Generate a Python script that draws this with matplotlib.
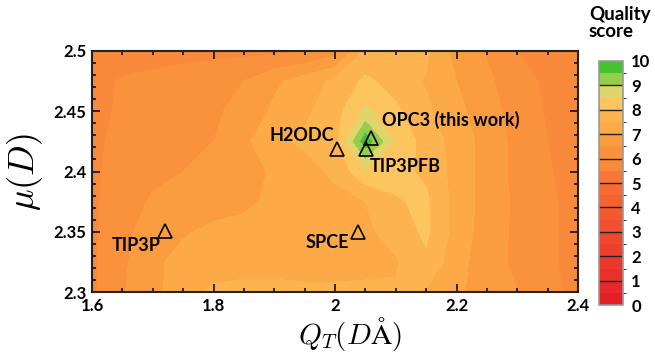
import numpy as np
import matplotlib
matplotlib.use("Agg")
import matplotlib.pyplot as plt
from matplotlib.colors import ListedColormap, BoundaryNorm

plt.rcParams['font.family'] = ['Lato', 'DejaVu Sans']
plt.rcParams['mathtext.fontset'] = 'cm'

# grid of the quality score map
q_vals = [1.6, 1.65, 1.7, 1.75, 1.8, 1.85, 1.9, 1.95, 2.0, 2.05, 2.1, 2.15, 2.2, 2.25, 2.3, 2.35, 2.4]
mu_vals = [2.3, 2.325, 2.35, 2.375, 2.4, 2.425, 2.45, 2.475, 2.5]
score = [
    [5.9, 6.45, 6.9, 7.2, 7.6, 7.65, 7.65, 7.6, 7.6, 7.6, 7.55, 7.45, 7.15, 6.6, 6.5, 6.2, 5.8],
    [5.9, 6.4, 6.9, 7.15, 7.25, 7.3, 7.3, 7.3, 7.3, 7.35, 7.45, 7.9, 7.2, 6.7, 6.4, 6.1, 5.8],
    [5.9, 6.35, 6.75, 6.95, 7.1, 7.15, 7.2, 7.25, 7.3, 7.4, 7.7, 8.1, 7.3, 6.75, 6.4, 6.1, 5.8],
    [5.9, 6.3, 6.55, 6.7, 6.8, 6.9, 7.1, 7.25, 7.35, 7.5, 7.95, 8.1, 7.3, 6.8, 6.4, 6.1, 5.8],
    [5.9, 6.2, 6.4, 6.5, 6.65, 6.85, 7.05, 7.3, 7.6, 8.4, 8.15, 7.9, 7.3, 6.8, 6.35, 6.05, 5.75],
    [5.85, 6.2, 6.35, 6.42, 6.5, 6.9, 7.35, 7.6, 7.8, 9.8, 8.4, 7.8, 7.3, 6.8, 6.35, 6.0, 5.75],
    [5.8, 6.1, 6.25, 6.35, 6.45, 6.6, 7.1, 7.4, 7.8, 8.6, 8.1, 7.6, 7.15, 6.7, 6.3, 5.95, 5.7],
    [5.8, 6.05, 6.15, 6.25, 6.35, 6.5, 6.9, 7.25, 7.6, 8.1, 7.8, 7.45, 7.0, 6.6, 6.2, 5.9, 5.65],
    [5.6, 5.7, 5.75, 5.8, 5.85, 5.85, 5.9, 5.95, 6.3, 7.6, 7.7, 7.6, 6.8, 6.45, 6.0, 5.8, 5.6],
]

# water models
model_names = ['TIP3P', 'H2ODC', 'OPC3 (this work)', 'TIP3PFB', 'SPCE']
model_q = [1.72, 2.003, 2.059, 2.051, 2.038]
model_mu = [2.351, 2.4187, 2.428, 2.419, 2.350]

cbar_ticks = list(range(0, 11))
x_ticks = [1.6, 1.8, 2.0, 2.2, 2.4]
x_ticklabels = ['1.6', '1.8', '2', '2.2', '2.4']
y_ticks = [2.3, 2.35, 2.4, 2.45, 2.5]
y_ticklabels = ['2.3', '2.35', '2.4', '2.45', '2.5']

band_colors = ['#e41f26', '#e6282a', '#e9302a', '#eb382b', '#ed3f2c', '#ef472d',
               '#f2502e', '#f4582f', '#f56231', '#f76b33', '#f87636', '#f98a3b',
               '#fa923d', '#fb9c41', '#fca947', '#fdb450', '#fdc560', '#e0d56a',
               '#96cd4c', '#45c22d']
levels = np.arange(0, 10.01, 0.5)
cmap = ListedColormap(band_colors)
norm = BoundaryNorm(levels, cmap.N)

fig = plt.figure(figsize=(6.55, 3.54), dpi=100)
ax = fig.add_axes([0.1405, 0.175, 0.742, 0.681])
X, Y = np.meshgrid(q_vals, mu_vals)
cs = ax.contourf(X, Y, np.array(score), levels=levels, cmap=cmap, norm=norm)

ax.plot(model_q, model_mu, '^', mfc='none', mec='k', ms=10, mew=1.2, zorder=5)
offsets = [(-21, -11), (-25, 9.5), (8, 12.5), (3, -12.7), (-22, -7.5)]
aligns = ['center', 'center', 'left', 'left', 'center']
for name, q, m, off, ha in zip(model_names, model_q, model_mu, offsets, aligns):
    ax.annotate(name, (q, m), xytext=off, textcoords='offset points',
                ha=ha, va='center', fontsize=13, fontweight='bold', zorder=6)

ax.set_xlim(1.6, 2.4)
ax.set_ylim(2.3, 2.5)
ax.set_xticks(x_ticks)
ax.set_xticklabels(x_ticklabels)
ax.set_yticks(y_ticks)
ax.set_yticklabels(y_ticklabels)
ax.set_xticks(np.arange(1.6, 2.401, 0.05), minor=True)
ax.set_yticks(np.arange(2.3, 2.501, 0.01), minor=True)
ax.tick_params(which='both', direction='in', top=True, right=True, width=1.1)
ax.tick_params(which='major', length=6, labelsize=12, pad=4)
ax.tick_params(which='minor', length=3)
for lab in ax.get_xticklabels() + ax.get_yticklabels():
    lab.set_fontweight('bold')
for s in ax.spines.values():
    s.set_linewidth(1.5)
    s.set_color('#222222')

ax.set_ylabel(r'$\mu(D)$', fontsize=26)
ax.set_xlabel(r'$Q_T(D\mathrm{\AA})$', fontsize=21)
ax.yaxis.set_label_coords(-0.097, 0.5)
ax.xaxis.set_label_coords(0.53, -0.095)

cax = fig.add_axes([0.9145, 0.138, 0.0366, 0.69])
cb = fig.colorbar(cs, cax=cax, ticks=cbar_ticks)
cb.outline.set_edgecolor('#999999')
cb.outline.set_linewidth(1.2)
for v in range(1, 10):
    cax.axhline(v, color='#222222', lw=1.0)
cax.tick_params(length=0, labelsize=12, pad=6)
for lab in cax.get_yticklabels():
    lab.set_fontweight('bold')

fig.text(0.899, 0.982, 'Quality\nscore', ha='left', va='top', fontsize=13.5,
         fontweight='bold', linespacing=0.95)

fig.savefig('out.png', dpi=100)
